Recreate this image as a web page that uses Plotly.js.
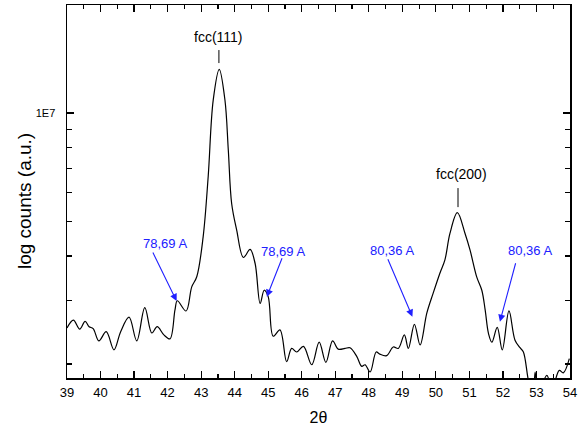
<!DOCTYPE html>
<html>
<head>
<meta charset="utf-8">
<script src="https://cdn.plot.ly/plotly-3.0.1.min.js"></script>
<style>html,body{margin:0;padding:0;background:#fff;}#chart{width:579px;height:433px;}</style>
</head>
<body>
<div id="chart"></div>
<script>
// 2θ positions (degrees)
const twoTheta = [39.00,39.19,39.38,39.54,39.66,39.78,39.95,40.17,40.40,40.60,40.85,41.08,41.32,41.53,41.69,41.89,42.07,42.22,42.29,42.55,42.72,42.87,43.06,43.21,43.36,43.54,43.71,43.81,43.91,44.06,44.26,44.46,44.61,44.76,44.88,45.00,45.15,45.35,45.55,45.70,45.85,46.05,46.30,46.52,46.72,46.92,47.09,47.29,47.44,47.64,47.79,47.89,48.04,48.22,48.33,48.53,48.73,48.88,49.06,49.18,49.36,49.53,49.73,49.92,50.12,50.27,50.42,50.64,50.87,51.02,51.22,51.37,51.47,51.57,51.67,51.83,51.98,52.18,52.36,52.51,52.61,52.76,52.90,52.96,53.05,53.31,53.46,53.68,53.80,53.98];
// counts (a.u.)
const counts = [2.52e6,2.65e6,2.50e6,2.63e6,2.54e6,2.51e6,2.32e6,2.46e6,2.19e6,2.46e6,2.70e6,2.32e6,2.87e6,2.44e6,2.54e6,2.41e6,2.35e6,2.83e6,3.00e6,2.81e6,3.28e6,3.50e6,4.52e6,6.65e6,1.087e7,1.324e7,1.087e7,7.89e6,5.60e6,4.72e6,3.96e6,4.17e6,3.81e6,2.95e6,3.21e6,3.08e6,2.39e6,2.49e6,2.03e6,2.21e6,2.16e6,2.24e6,1.99e6,2.30e6,2.02e6,2.32e6,2.20e6,2.21e6,2.22e6,2.10e6,1.97e6,1.99e6,1.90e6,2.16e6,2.13e6,2.11e6,2.23e6,2.21e6,2.41e6,2.21e6,2.58e6,2.26e6,2.77e6,3.15e6,3.58e6,3.90e6,4.62e6,5.28e6,4.62e6,4.15e6,3.49e6,3.21e6,2.83e6,2.43e6,2.30e6,2.53e6,2.19e6,2.81e6,2.33e6,2.22e6,2.16e6,1.80e6,1.62e6,1.90e6,1.66e6,1.86e6,1.70e6,1.92e6,1.89e6,2.07e6];

const xTickVals = [39,40,41,42,43,44,45,46,47,48,49,50,51,52,53,54];
const yTickVals = [1e7];
const yTickText = ['1E7'];
const yMinorVals = [2e6,3e6,4e6,5e6,6e6,7e6,8e6,9e6,2e7];

const peakLabels = ['fcc(111)','fcc(200)'];
const sizeLabels = ['78,69 A','78,69 A','80,36 A','80,36 A'];

const FONT = '"Liberation Sans", Arial, sans-serif';
const BLUE = '#2020ff';

const trace = {
  x: twoTheta, y: counts, type: 'scatter', mode: 'lines',
  line: {color: '#000', width: 1.2, shape: 'spline', smoothing: 1.0},
  hoverinfo: 'skip'
};

const annotations = [
  {x: 43.53, y: 7.2110, text: peakLabels[0]},
  {x: 50.75, y: 6.8300, text: peakLabels[1]},
].map(a => Object.assign({xref:'x', yref:'y', showarrow:false, font:{family:FONT, size:14, color:'#000'}}, a));

const sizeAnn = [
  {x: 41.92, y: 6.6379, tipx: 42.27, tipy: 6.4763, tailx: 41.54, taily: 6.6156},
  {x: 45.44, y: 6.6156, tipx: 44.96, tipy: 6.4883, tailx: 45.43, taily: 6.5997},
  {x: 48.69, y: 6.6184, tipx: 49.30, tipy: 6.4326, tailx: 48.55, taily: 6.5969},
  {x: 52.82, y: 6.6184, tipx: 51.91, tipy: 6.4187, tailx: 52.39, taily: 6.5858},
];
sizeAnn.forEach((s, i) => {
  annotations.push({xref:'x', yref:'y', x: s.x, y: s.y, text: sizeLabels[i], showarrow:false,
    font:{family:FONT, size:13, color:BLUE}});
  annotations.push({xref:'x', yref:'y', x: s.tipx, y: s.tipy, text: '', showarrow:true,
    axref:'x', ayref:'y', ax: s.tailx, ay: s.taily,
    arrowhead: 2, arrowsize: 1.3, arrowwidth: 1.1, arrowcolor: BLUE, standoff: 0});
});

// y-axis title placed as rotated text
annotations.push({xref:'paper', yref:'paper', x: -0.083, y: 0.475, text: 'log counts (a.u.)',
  textangle: -90, showarrow: false, xanchor: 'center', yanchor: 'middle',
  font: {family: FONT, size: 19, color: '#000'}});

const layout = {
  width: 579, height: 433,
  margin: {l: 67, r: 9, t: 5, b: 55},
  paper_bgcolor: '#fff', plot_bgcolor: '#fff',
  showlegend: false,
  font: {family: FONT, color: '#000'},
  xaxis: {
    range: [39, 54], tickmode: 'array', tickvals: xTickVals,
    ticks: 'inside', ticklen: 7, tickwidth: 1.2, tickcolor: '#000',
    showline: true, linecolor: '#000', linewidth: 1.5, mirror: 'allticks',
    showgrid: false, zeroline: false,
    tickfont: {family: FONT, size: 13, color: '#000'},
    ticklabelstandoff: 2,
    minor: {dtick: 0.5, tick0: 39, ticks: 'inside', ticklen: 4, tickwidth: 1.2, tickcolor: '#000', showgrid: false},
    title: {text: '2θ', font: {family: FONT, size: 16, color: '#000'}, standoff: 12},
    fixedrange: true
  },
  yaxis: {
    type: 'log', range: [6.262, 7.301],
    tickmode: 'array', tickvals: yTickVals, ticktext: yTickText,
    ticks: 'inside', ticklen: 7, tickwidth: 1.2, tickcolor: '#000',
    showline: true, linecolor: '#000', linewidth: 1.5, mirror: 'allticks',
    showgrid: false, zeroline: false,
    tickfont: {family: FONT, size: 11, color: '#000'},
    ticklabelstandoff: 8,
    minor: {tickmode: 'array', tickvals: yMinorVals, ticks: 'inside', ticklen: 5, tickwidth: 1.2, tickcolor: '#000', showgrid: false},
    fixedrange: true
  },
  annotations: annotations,
  shapes: [
    {type:'line', xref:'x', yref:'y', x0: 43.53, x1: 43.53, y0: 1.498e7, y1: 1.378e7, line:{color:'#000', width:1}},
    {type:'line', xref:'x', yref:'y', x0: 50.66, x1: 50.66, y0: 6.18e6, y1: 5.47e6, line:{color:'#000', width:1}}
  ]
};

Plotly.newPlot('chart', [trace], layout, {staticPlot: true, displayModeBar: false});
</script>
</body>
</html>
